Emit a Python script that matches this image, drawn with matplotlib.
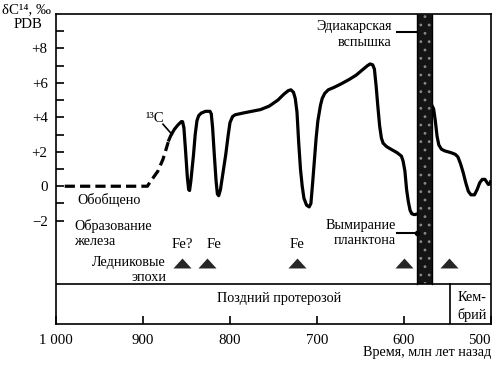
import matplotlib
matplotlib.use("Agg")
import matplotlib.pyplot as plt
from matplotlib.path import Path

plt.rcParams['font.family'] = ['Liberation Serif', 'DejaVu Serif']
plt.rcParams['hatch.linewidth'] = 0.8

# ---- data ----
dashed_age = [990, 915, 895, 892, 883, 877, 871]
dashed_d13c = [0, 0, 0, 0.23, 0.87, 1.57, 2.56]

curve1_age = [871, 868, 864, 860, 856, 854.5, 853, 851, 849, 847.5, 846.5, 845, 842, 840, 838, 836,
              833, 828, 823, 821.5, 820, 818, 816, 814.5, 813, 811, 808, 805, 802, 800, 797, 794,
              785, 775, 765, 755, 745, 738, 733, 730, 727, 725, 723, 721, 719, 717, 715, 712, 709,
              707, 705, 703, 701, 699, 696, 694, 691, 687, 680, 672, 663, 655, 648, 642, 639, 636,
              634, 632, 630, 628, 626, 624, 620, 615, 608, 603, 601, 599, 597, 595, 593, 591, 588, 584]
curve1_d13c = [2.6, 2.95, 3.3, 3.55, 3.75, 3.75, 3.4, 2.0, 0.5, -0.2, -0.25, 0.3, 1.8, 3.0, 3.8, 4.1,
               4.25, 4.35, 4.35, 4.2, 3.4, 1.8, 0.3, -0.45, -0.55, -0.2, 0.8, 1.8, 3.0, 3.7, 4.05, 4.15,
               4.25, 4.35, 4.45, 4.65, 5.0, 5.35, 5.55, 5.6, 5.45, 5.1, 4.3, 2.5, 1.0, 0.0, -0.7, -1.1, -1.2,
               -1.0, 0.2, 1.5, 2.8, 3.8, 4.7, 5.1, 5.4, 5.6, 5.75, 5.95, 6.2, 6.45, 6.75, 7.0, 7.1, 7.05,
               6.8, 5.8, 4.6, 3.5, 2.8, 2.5, 2.3, 2.15, 1.95, 1.75, 1.45, 0.9, -0.2, -0.9, -1.4, -1.6, -1.65, -1.6]

curve2_age = [571, 568, 566, 564, 562, 560, 557, 553, 546, 541, 538, 535, 532, 529, 526, 523, 519,
              516, 513, 510, 507, 505, 503, 501, 500]
curve2_d13c = [4.6, 4.7, 4.5, 3.8, 2.9, 2.4, 2.15, 2.05, 1.95, 1.85, 1.7, 1.3, 0.8, 0.2, -0.3, -0.5, -0.5,
               -0.2, 0.2, 0.4, 0.4, 0.25, 0.1, 0.15, 0.35]

glacial_ages = [855, 826, 723, 600, 548]
fe_labels = ["Fe?", "Fe", "Fe"]
fe_ages = [855, 818, 723]

ediacaran_start, ediacaran_end = 585, 568
cambrian_boundary = 547

xtick_vals = [1000, 900, 800, 700, 600, 500]
xtick_labels = ["1 000", "900", "800", "700", "600", "500"]
ytick_vals = list(range(-2, 10))
ytick_labels = ["−2" if v == -2 else ("0" if v == 0 else (f"+{v}" if v % 2 == 0 else "")) for v in ytick_vals]

# ---- figure ----
fig = plt.figure(figsize=(5.0, 3.65), dpi=100)
ax = fig.add_axes([0.112, 0.1123, 0.87, 0.8493])
ax.set_xlim(1000, 500)
ax.set_ylim(-8, 10)

lw = 2.3
ax.plot(dashed_age, dashed_d13c, color='black', lw=lw, dashes=(3.2, 1.6), zorder=3)
ax.plot(curve1_age, curve1_d13c, color='black', lw=lw, zorder=3, solid_capstyle='butt')
ax.plot(curve2_age, curve2_d13c, color='black', lw=lw, zorder=3, solid_capstyle='butt')

# Ediacaran band
sep_y = -5.7
ax.fill_betweenx([sep_y, 10], ediacaran_start, ediacaran_end, facecolor='#141414',
                 edgecolor='#8a8a8a', hatch='..', linewidth=0, zorder=4)
ax.plot([ediacaran_start, ediacaran_start], [sep_y, 10], color='black', lw=1.0, zorder=5)
ax.plot([ediacaran_end, ediacaran_end], [sep_y, 10], color='black', lw=1.0, zorder=5)

# separator and Cambrian boundary
ax.axhline(sep_y, color='black', lw=1.2, zorder=5)
ax.plot([cambrian_boundary, cambrian_boundary], [-8, sep_y], color='black', lw=1.2, zorder=5)

# glacial triangles
tri = Path([(-1, -0.55), (1, -0.55), (0, 0.55), (-1, -0.55)],
           [Path.MOVETO, Path.LINETO, Path.LINETO, Path.CLOSEPOLY])
ax.plot(glacial_ages, [-4.45] * len(glacial_ages), linestyle='none', marker=tri,
        markersize=13, color='#262626', markeredgewidth=0, zorder=6)

fs = 10.2
for lab, age in zip(fe_labels, fe_ages):
    ax.text(age, -3.37, lab, ha='center', va='center', fontsize=fs + 0.5)

ax.text(976, -0.81, "Обобщено", ha='left', va='center', fontsize=fs)
ax.text(979, -2.33, "Образование", ha='left', va='center', fontsize=fs)
ax.text(979, -3.2, "железа", ha='left', va='center', fontsize=fs)
ax.text(873.5, -4.4, "Ледниковые", ha='right', va='center', fontsize=fs)
ax.text(873.5, -5.3, "эпохи", ha='right', va='center', fontsize=fs)
ax.text(744, -6.5, "Поздний протерозой", ha='center', va='center', fontsize=fs)
ax.text(522, -6.45, "Кем-", ha='center', va='center', fontsize=fs)
ax.text(522, -7.45, "брий", ha='center', va='center', fontsize=fs)

ax.text(614, 9.3, "Эдиакарская", ha='right', va='center', fontsize=fs)
ax.text(614, 8.37, "вспышка", ha='right', va='center', fontsize=fs)
ax.plot([608, 585], [8.95, 8.95], color='black', lw=1.5, zorder=5)

ax.text(609, -2.3, "Вымирание", ha='right', va='center', fontsize=fs)
ax.text(609, -3.17, "планктона", ha='right', va='center', fontsize=fs)
ax.plot([608, 585], [-2.73, -2.73], color='black', lw=1.5, zorder=5)
ax.plot([585], [-2.73], marker='o', markersize=3, color='black', zorder=6)

ax.text(897.5, 3.95, "¹³C", ha='left', va='center', fontsize=fs + 0.5)
ax.plot([877, 866.5], [3.6, 3.0], color='black', lw=1.2)

# ticks
ax.set_xticks(xtick_vals)
ax.set_xticklabels(xtick_labels, fontsize=fs + 0.5)
ax.get_xticklabels()[-1].set_horizontalalignment('right')
ax.get_xticklabels()[-1].set_x(500)
ax.set_yticks(ytick_vals)
ax.set_yticklabels(ytick_labels, fontsize=fs + 0.5)
ax.tick_params(axis='both', direction='in', length=6, width=1.2)
ax.tick_params(axis='x', pad=7)
ax.tick_params(axis='y', pad=6)
for s in ax.spines.values():
    s.set_linewidth(1.2)

fig.text(0.054, 0.973, "δC¹⁴, ‰", ha='center', va='center', fontsize=fs + 0.5)
fig.text(0.056, 0.932, "PDB", ha='center', va='center', fontsize=fs + 0.5)
fig.text(0.982, 0.033, "Время, млн лет назад", ha='right', va='center', fontsize=fs)

fig.savefig("out.png", dpi=100)
